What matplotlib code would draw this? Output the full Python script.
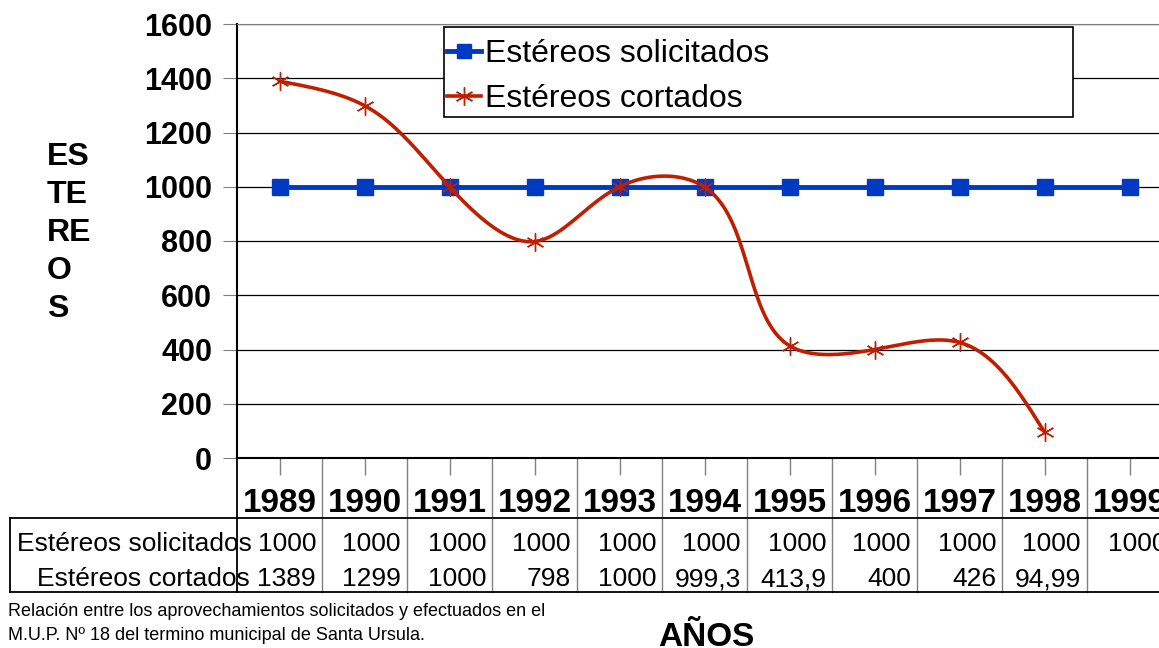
"""
Estereos solicitados vs cortados, M.U.P. 18 Santa Ursula (1989-1999).
"""

import matplotlib
matplotlib.use("Agg")
import matplotlib.pyplot as plt
from matplotlib.transforms import blended_transform_factory
from matplotlib.lines import Line2D
from matplotlib.patches import Rectangle
import numpy as np

plt.rcParams["font.family"] = ["Liberation Sans", "DejaVu Sans"]

# Data
years = ["1989", "1990", "1991", "1992", "1993", "1994",
         "1995", "1996", "1997", "1998", "1999"]
solicitados = [1000, 1000, 1000, 1000, 1000, 1000, 1000, 1000, 1000, 1000, 1000]
cortados = [1389, 1299, 1000, 798, 1000, 999.3, 413.9, 400, 426, 94.99]
solicitados_txt = ["1000"] * 11
cortados_txt = ["1389", "1299", "1000", "798", "1000", "999,3",
                "413,9", "400", "426", "94,99", ""]

BLUE = "#0039c2"
RED = "#c01e00"

W, H = 1159, 648
fig = plt.figure(figsize=(W / 100, H / 100), dpi=100)

def fx(px):
    return px / W

def fy(py):
    return 1 - py / H

# chart axes (right part is cut off by the figure edge like in the original)
left, top, bottom, col = 237, 24, 458, 85
ax = fig.add_axes([fx(left), fy(bottom), 11 * col / W, (bottom - top) / H])
ax.set_xlim(-0.5, 10.5)
ax.set_ylim(0, 1600)
ax.set_yticks(range(0, 1601, 200))
ax.set_xticks(range(11))
ax.set_xticklabels([])
ax.yaxis.grid(True, color="black", lw=0.9)
ax.set_axisbelow(True)
for lab in ax.get_yticklabels():
    lab.set_fontweight("bold")
ax.tick_params(axis="y", labelsize=22, length=10, color="gray", pad=8)
ax.tick_params(axis="x", length=12, color="gray", width=1)
ax.spines["left"].set_linewidth(1.5)
ax.spines["bottom"].set_linewidth(1.5)
ax.spines["top"].set_color("gray")
ax.spines["right"].set_visible(False)

x = np.arange(len(years))

# blue series
ax.plot(x, solicitados, color=BLUE, lw=3.5, marker="s", ms=11,
        clip_on=False, zorder=3)

# red series, smoothed with a parametric natural cubic spline (screen space)
sx, sy = col, (bottom - top) / 1600.0
px = np.arange(len(cortados), dtype=float) * sx
py = np.array(cortados, dtype=float) * sy
h = np.hypot(np.diff(px), np.diff(py))
n = len(px)

def second_derivs(v):
    A = np.zeros((n, n))
    b = np.zeros(n)
    A[0, 0] = A[-1, -1] = 1
    for i in range(1, n - 1):
        A[i, i - 1] = h[i - 1]
        A[i, i] = 2 * (h[i - 1] + h[i])
        A[i, i + 1] = h[i]
        b[i] = 6 * ((v[i + 1] - v[i]) / h[i] - (v[i] - v[i - 1]) / h[i - 1])
    return np.linalg.solve(A, b)

def spline_eval(v, M):
    out = []
    for i in range(n - 1):
        s = np.linspace(0, h[i], 40)
        a = (h[i] - s) / h[i]
        c = s / h[i]
        seg = a * v[i] + c * v[i + 1] + ((a ** 3 - a) * M[i]
                                           + (c ** 3 - c) * M[i + 1]) * h[i] ** 2 / 6
        out.append(seg)
    return np.concatenate(out)

cx = spline_eval(px, second_derivs(px)) / sx
cy = spline_eval(py, second_derivs(py)) / sy
ax.plot(cx, cy, color=RED, lw=2.6, zorder=4)
ax.plot(np.arange(len(cortados)), cortados, ls="none", marker=(6, 2, 0),
        ms=13, mew=1.0, color=RED, zorder=5)

# legend with its own box
fig.add_artist(Rectangle((fx(444), fy(117)), fx(1073 - 444), (117 - 27) / H,
                         transform=fig.transFigure, fill=True, fc="white",
                         ec="black", lw=1.2, zorder=6))
handles = [Line2D([], [], color=BLUE, lw=3.5, marker="s", ms=10),
           Line2D([], [], color=RED, lw=2.6, marker=(6, 2, 0), ms=13, mew=1.0)]
leg = fig.legend(handles, ["Estéreos solicitados", "Estéreos cortados"],
                 loc="upper left", bbox_to_anchor=(fx(441), fy(33)),
                 borderaxespad=0, frameon=False, fontsize=23,
                 handlelength=1.05, handletextpad=0.12, labelspacing=0.45,
                 borderpad=0.2)
leg.set_zorder(7)

# table under the chart
tr = blended_transform_factory(ax.transData, fig.transFigure)
for k in range(12):
    xb = -0.5 + k
    ax.plot([xb, xb], [fy(bottom), fy(592)], transform=tr, clip_on=False,
            color="black" if k == 0 else "gray", lw=1.3 if k == 0 else 1.0)
for yy in (518, 592):
    fig.add_artist(Line2D([fx(10), 1], [fy(yy), fy(yy)], color="black", lw=1.3))
fig.add_artist(Line2D([fx(10), fx(10)], [fy(518), fy(592)], color="black", lw=1.3))

for i, yr in enumerate(years):
    ax.text(i, fy(504), yr, transform=tr, ha="center", va="center",
            fontsize=24, fontweight="bold")
    ax.text(i + 0.5 - 6 / col, fy(544), solicitados_txt[i], transform=tr,
            ha="right", va="center", fontsize=19)
    ax.text(i + 0.5 - 6 / col, fy(579), cortados_txt[i], transform=tr,
            ha="right", va="center", fontsize=19)
ax.text(-0.5 + 15 / col, fy(544), "Estéreos solicitados", transform=tr,
        ha="right", va="center", fontsize=19)
ax.text(-0.5 + 13 / col, fy(579), "Estéreos cortados", transform=tr,
        ha="right", va="center", fontsize=19)

# axis titles and caption
fig.text(fx(47), fy(142), "ES\nTE\nRE\nO\nS", ha="left", va="top",
         fontsize=23, fontweight="bold", linespacing=1.35)
fig.text(fx(706), fy(637), "AÑOS", ha="center", va="center",
         fontsize=24, fontweight="bold")
fig.text(fx(8), fy(612),
         "Relación entre los aprovechamientos solicitados y efectuados en el",
         ha="left", va="center", fontsize=13)
fig.text(fx(8), fy(636), "M.U.P. Nº 18 del termino municipal de Santa Ursula.",
         ha="left", va="center", fontsize=13)

fig.savefig("out.png", dpi=100)
